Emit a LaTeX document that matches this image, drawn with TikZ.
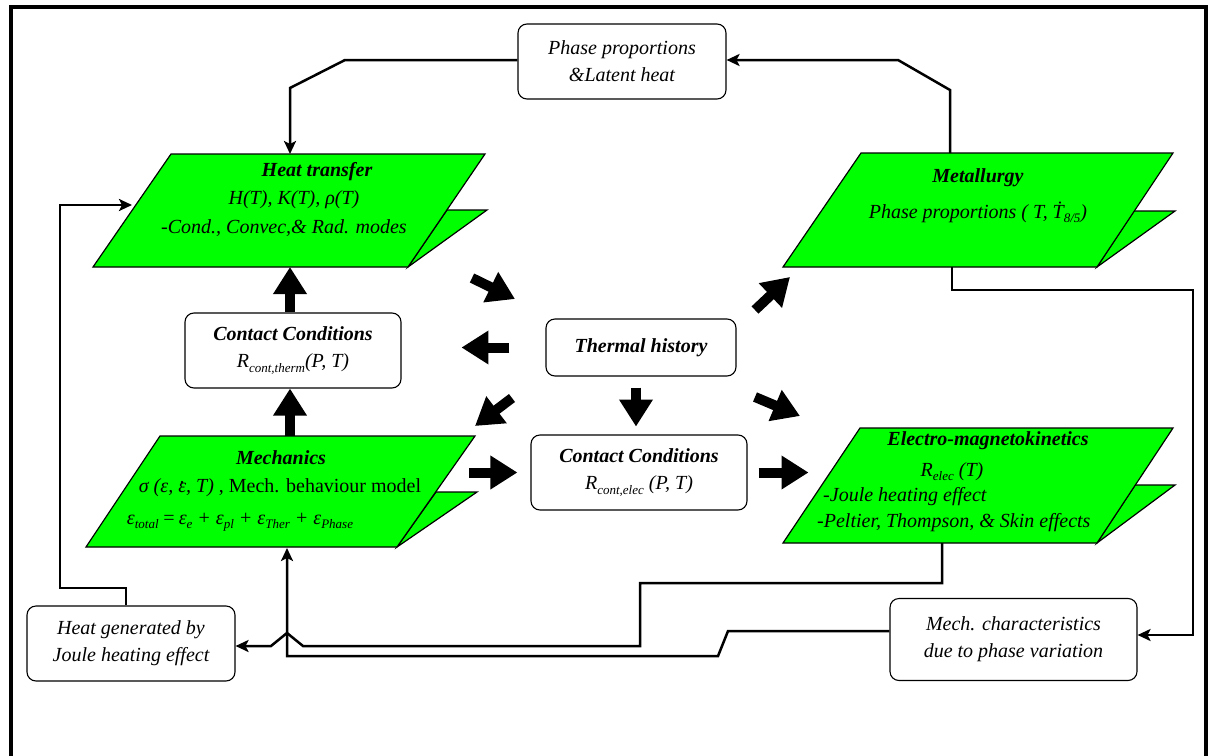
\documentclass[tikz,border=0pt]{standalone}
\usepackage{fontspec}
\setmainfont{Liberation Serif}
\usetikzlibrary{arrows.meta}
\definecolor{grn}{RGB}{0,255,0}
\newcommand\lo[1]{\raisebox{-0.45ex}{\fontsize{13}{13}\selectfont\itshape #1}}
\newcommand\dotov[1]{{\ooalign{#1\cr\hidewidth\raisebox{1.05ex}{\upshape.}\hidewidth\cr}}}
\begin{document}
\begin{tikzpicture}[x=1pt,y=-1pt,
  every node/.style={font=\fontsize{20}{27}\selectfont, inner sep=0pt},
  para/.style={fill=grn, draw=black, line width=1.2pt, line join=miter},
  rbox/.style={draw=black, line width=1.1pt, rounded corners=9pt, fill=white, align=center, font=\fontsize{20}{27}\selectfont\itshape},
  conn/.style={line width=2.5pt, -{Stealth[length=13pt,width=12pt,inset=3pt]}},
  blk/.style={line width=10pt, -{Triangle[length=27pt,width=32pt]}},
  ttl/.style={font=\fontsize{20}{27}\selectfont\bfseries\itshape},
  txt/.style={font=\fontsize{20}{27}\selectfont\itshape},
]
\useasboundingbox (0,0) rectangle (1210,755);
\fill[white] (0,0) rectangle (1210,755);
% frame
\draw[line width=3.5pt] (11,757) -- (11,7) -- (1206,7) -- (1206,757);

% parallelograms (flap first, then body)
\draw[para] (447,210) -- (487,210) -- (408,267) -- cycle;
\draw[para] (171,154) -- (485,154) -- (408,267) -- (93,267) -- cycle;
\draw[para] (1134,211) -- (1175,211) -- (1097,267) -- cycle;
\draw[para] (861,153) -- (1173,153) -- (1097,267) -- (783,267) -- cycle;
\draw[para] (436,492) -- (477,492) -- (397,547) -- cycle;
\draw[para] (160,436) -- (475,436) -- (397,547) -- (86,547) -- cycle;
\draw[para] (1135,485) -- (1175,485) -- (1097,543) -- cycle;
\draw[para] (860,428) -- (1173,428) -- (1097,543) -- (783,543) -- cycle;

% texts in parallelograms
\node[ttl] (heatT) at (317,172) {Heat transfer};
\node[txt] (heatA) at (294,200) {H(T), K(T), ρ(T)};
\node[txt] (heatB) at (284,228) {-Cond., Convec,\& Rad. modes};

\node[ttl] (metT) at (978,178) {Metallurgy};
\node[txt] (metA) at (978,212) {Phase proportions ( T, Ṫ\lo{8/5})};

\node[ttl] (mechT) at (281,458) {Mechanics};
\node (mechA) at (280,488) {\textit{σ (ε, \dotov{ε}, T)} , Mech. behaviour model};
\node[txt] (mechB) at (240,522) {ε\lo{total}\,=\,ε\lo{e} + ε\lo{pl} + ε\lo{Ther} + ε\lo{Phase}};

\node[ttl] (elecT) at (988,441) {Electro-magnetokinetics};
\node[txt] (elecA) at (952,472) {R\lo{elec} (T)};
\node[txt,anchor=west] (elecB) at (823,497) {-Joule heating effect};
\node[txt,anchor=west] (elecC) at (817,523) {-Peltier, Thompson, \& Skin effects};

% rounded boxes
\node[rbox, minimum width=208pt, minimum height=75pt] (phase) at (622,61.5) {Phase proportions\\\&Latent heat};
\node[rbox, minimum width=216pt, minimum height=75pt] (cth) at (293,350.5) {\textbf{Contact Conditions}\\R\lo{cont,therm}(P, T)};
\node[rbox, minimum width=190pt, minimum height=57pt] (thist) at (641,347.5) {\textbf{Thermal history}};
\node[rbox, minimum width=216pt, minimum height=75pt] (cel) at (639,472.5) {\textbf{Contact Conditions}\\R\lo{cont,elec} (P, T)};
\node[rbox, minimum width=208pt, minimum height=75pt] (hgen) at (131,643.5) {Heat generated by\\Joule heating effect};
\node[rbox, minimum width=247pt, minimum height=82pt] (mch) at (1013.5,639.5) {Mech. characteristics\\due to phase variation};

% attachment points
\coordinate (heatN) at (290,154);
\coordinate (heatW) at (132,205);
\coordinate (heatS) at (290,267);
\coordinate (metN) at (950,153);
\coordinate (metS) at (952,267);
\coordinate (mechN) at (290,436);
\coordinate (mechS) at (287,548);
\coordinate (elecS) at (942,543);

% thin connectors
\draw[conn] (phase.west |- 0,60) -- (345,60) -- (290,88) -- (heatN);
\draw[conn] (metN) -- (950,90) -- (898,60) -- (phase.east |- 0,60);
\draw[conn] ([xshift=-5pt]hgen.north) |- (60,588) |- (heatW);
\draw[conn] (elecS) -- (942,583) -- (640,583) -- (640,646) -- (303,646) -- (287,633) -- (271,646) -- (hgen.east |- 0,646);
\draw[conn] (mch.west |- 0,631) -- (728,631) -- (718,656) -- (287,656) -- (mechS);
\draw[conn] (metS) -- (952,290) -- (1193,290) -- (1193,635) -- (mch.east |- 0,635);

% block arrows
\coordinate (hA) at (472,278); \coordinate (hB) at (515,299);
\coordinate (eA) at (512,398); \coordinate (eB) at (475,426);
\coordinate (fA) at (755,310); \coordinate (fB) at (790,277);
\coordinate (gA) at (755,397); \coordinate (gB) at (800,416);
\draw[blk] (cth.north -| heatS) -- (heatS);
\draw[blk] (mechN) -- (cth.south -| mechN);
\draw[blk] ([xshift=-36pt]thist.west) -- ([xshift=-84pt]thist.west);
\draw[blk] ([shift={(-5,11)}]thist.south) -- ([shift={(-5,50)}]thist.south);
\draw[blk] (hA) -- (hB);
\draw[blk] (eA) -- (eB);
\draw[blk] (fA) -- (fB);
\draw[blk] (gA) -- (gB);
\draw[blk] ([xshift=-61pt]cel.west) -- ([xshift=-13pt]cel.west);
\draw[blk] ([xshift=11pt]cel.east) -- ([xshift=61pt]cel.east);
\end{tikzpicture}
\end{document}
